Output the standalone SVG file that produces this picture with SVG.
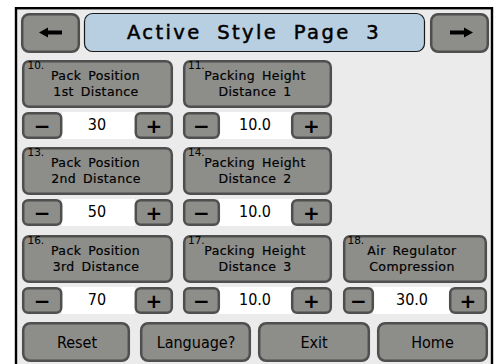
<svg xmlns="http://www.w3.org/2000/svg" width="499" height="364" viewBox="0 0 499 364">
<style>
.btn{fill:#8d8d8a;stroke:#4f4f4f;stroke-width:2.5}
.val{fill:#ffffff}
.num{font-family:'DejaVu Sans',sans-serif;font-size:10.5px;fill:#000}
.lbl{font-family:'DejaVu Sans',sans-serif;font-size:12.5px;letter-spacing:0.4px;word-spacing:2.5px;text-anchor:middle;fill:#000;stroke:#000;stroke-width:0.2}
.v{font-family:'DejaVu Sans Condensed','DejaVu Sans',sans-serif;font-size:16px;text-anchor:middle;fill:#000}
.b{font-family:'DejaVu Sans Condensed','DejaVu Sans',sans-serif;font-size:16px;text-anchor:middle;fill:#000}
.pm{font-family:'DejaVu Sans',sans-serif;font-weight:bold;font-size:20px;text-anchor:middle;fill:#000}
.ttl{font-family:'DejaVu Sans',sans-serif;font-size:19.5px;letter-spacing:2.4px;word-spacing:7px;text-anchor:middle;fill:#000;stroke:#000;stroke-width:0.5}
</style>
<rect x="0" y="0" width="499" height="364" fill="#ffffff"/>
<rect x="16" y="8.2" width="476" height="360" fill="#ebebeb" stroke="#000" stroke-width="2.4"/>

<g id="nav-left">
<rect class="btn" x="22.2" y="14.2" width="56.6" height="37.6" rx="7"/>
<path d="M39 32.5 L48 27.5 L48 30.5 L62 30.5 L62 34.5 L48 34.5 L48 37.5 Z" fill="#000"/>
</g>
<g id="title">
<rect x="84.5" y="13.5" width="340" height="38" rx="8" fill="#b8cee1" stroke="#1a1a1a" stroke-width="1.2"/>
<text class="ttl" x="254" y="39">Active Style Page 3</text>
</g>
<g id="nav-right">
<rect class="btn" x="431.2" y="14.2" width="56.6" height="37.6" rx="7"/>
<path d="M473 32.5 L464 27.5 L464 30.5 L450 30.5 L450 34.5 L464 34.5 L464 37.5 Z" fill="#000"/>
</g>

<g id="item-10">
<rect class="btn" x="23.2" y="61.2" width="148.6" height="45.6" rx="6"/>
<text class="num" x="27.5" y="68.5">10.</text>
<text class="lbl" x="95.5" y="79.5">Pack Position</text>
<text class="lbl" x="96" y="96">1st Distance</text>
<rect class="val" x="62" y="112" width="73" height="27"/>
<rect class="btn" x="23.2" y="113.2" width="38" height="24.6" rx="5"/>
<rect class="btn" x="135.8" y="113.2" width="36" height="24.6" rx="5"/>
<text class="pm" x="42.2" y="132.5">−</text>
<text class="pm" x="153.8" y="132.5">+</text>
<text class="v" x="97" y="130">30</text>
</g>

<g id="item-11">
<rect class="btn" x="184.2" y="61.2" width="146.6" height="45.6" rx="6"/>
<text class="num" x="188" y="68.5">11.</text>
<text class="lbl" x="255" y="79.5">Packing Height</text>
<text class="lbl" x="255" y="96">Distance 1</text>
<rect class="val" x="219" y="112" width="73" height="27"/>
<rect class="btn" x="184.2" y="113.2" width="34.6" height="24.6" rx="5"/>
<rect class="btn" x="292.2" y="113.2" width="38.6" height="24.6" rx="5"/>
<text class="pm" x="201.5" y="132.5">−</text>
<text class="pm" x="311.5" y="132.5">+</text>
<text class="v" x="255" y="130">10.0</text>
</g>

<g id="item-13">
<rect class="btn" x="23.2" y="148.2" width="148.6" height="45.6" rx="6"/>
<text class="num" x="27.5" y="155.5">13.</text>
<text class="lbl" x="95.5" y="166.5">Pack Position</text>
<text class="lbl" x="96" y="183">2nd Distance</text>
<rect class="val" x="62" y="199" width="73" height="27"/>
<rect class="btn" x="23.2" y="200.2" width="38" height="24.6" rx="5"/>
<rect class="btn" x="135.8" y="200.2" width="36" height="24.6" rx="5"/>
<text class="pm" x="42.2" y="219.5">−</text>
<text class="pm" x="153.8" y="219.5">+</text>
<text class="v" x="97" y="217">50</text>
</g>

<g id="item-14">
<rect class="btn" x="184.2" y="148.2" width="146.6" height="45.6" rx="6"/>
<text class="num" x="188" y="155.5">14.</text>
<text class="lbl" x="255" y="166.5">Packing Height</text>
<text class="lbl" x="255" y="183">Distance 2</text>
<rect class="val" x="219" y="199" width="73" height="27"/>
<rect class="btn" x="184.2" y="200.2" width="34.6" height="24.6" rx="5"/>
<rect class="btn" x="292.2" y="200.2" width="38.6" height="24.6" rx="5"/>
<text class="pm" x="201.5" y="219.5">−</text>
<text class="pm" x="311.5" y="219.5">+</text>
<text class="v" x="255" y="217">10.0</text>
</g>

<g id="item-16">
<rect class="btn" x="23.2" y="236.2" width="148.6" height="45.6" rx="6"/>
<text class="num" x="27.5" y="243.5">16.</text>
<text class="lbl" x="95.5" y="254.5">Pack Position</text>
<text class="lbl" x="96" y="271">3rd Distance</text>
<rect class="val" x="62" y="287" width="73" height="27"/>
<rect class="btn" x="23.2" y="288.2" width="38" height="24.6" rx="5"/>
<rect class="btn" x="135.8" y="288.2" width="36" height="24.6" rx="5"/>
<text class="pm" x="42.2" y="307.5">−</text>
<text class="pm" x="153.8" y="307.5">+</text>
<text class="v" x="97" y="305">70</text>
</g>

<g id="item-17">
<rect class="btn" x="184.2" y="236.2" width="146.6" height="45.6" rx="6"/>
<text class="num" x="188" y="243.5">17.</text>
<text class="lbl" x="255" y="254.5">Packing Height</text>
<text class="lbl" x="255" y="271">Distance 3</text>
<rect class="val" x="219" y="287" width="73" height="27"/>
<rect class="btn" x="184.2" y="288.2" width="34.6" height="24.6" rx="5"/>
<rect class="btn" x="292.2" y="288.2" width="38.6" height="24.6" rx="5"/>
<text class="pm" x="201.5" y="307.5">−</text>
<text class="pm" x="311.5" y="307.5">+</text>
<text class="v" x="255" y="305">10.0</text>
</g>

<g id="item-18">
<rect class="btn" x="344.2" y="236.2" width="141.6" height="45.6" rx="6"/>
<text class="num" x="347.5" y="243.5">18.</text>
<text class="lbl" x="412" y="254.5">Air Regulator</text>
<text class="lbl" x="412" y="271">Compression</text>
<rect class="val" x="373" y="287" width="77" height="27"/>
<rect class="btn" x="344.2" y="288.2" width="28.6" height="24.6" rx="5"/>
<rect class="btn" x="450.2" y="288.2" width="35.6" height="24.6" rx="5"/>
<text class="pm" x="358.5" y="307.5">−</text>
<text class="pm" x="468" y="307.5">+</text>
<text class="v" x="412" y="305">30.0</text>
</g>

<g id="btn-reset">
<rect class="btn" x="23.2" y="323.2" width="105.6" height="37.6" rx="7"/>
<text class="b" x="77" y="348">Reset</text>
</g>
<g id="btn-language">
<rect class="btn" x="141.2" y="323.2" width="108.6" height="37.6" rx="7"/>
<text class="b" x="196" y="348">Language?</text>
</g>
<g id="btn-exit">
<rect class="btn" x="259.2" y="323.2" width="109.6" height="37.6" rx="7"/>
<text class="b" x="314" y="348">Exit</text>
</g>
<g id="btn-home">
<rect class="btn" x="378.2" y="323.2" width="108.6" height="37.6" rx="7"/>
<text class="b" x="432.5" y="348">Home</text>
</g>
<g id="connectors"></g>
</svg>
